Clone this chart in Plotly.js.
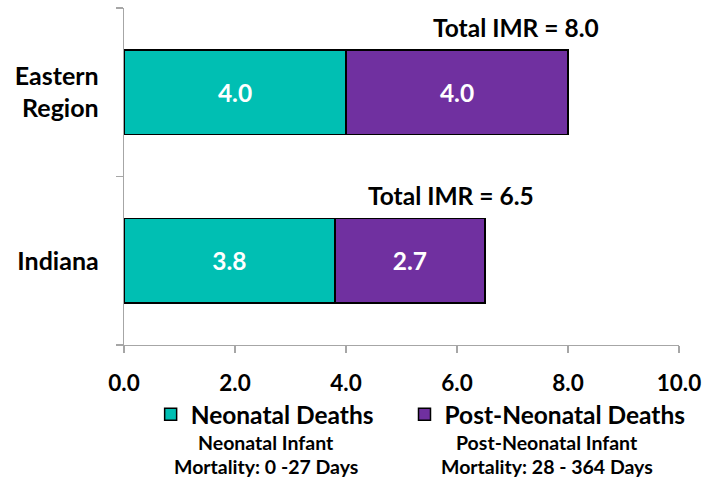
<!DOCTYPE html>
<html>
<head>
<meta charset="utf-8">
<script src="https://cdn.plot.ly/plotly-3.0.1.min.js"></script>
<style>html,body{margin:0;padding:0;background:#fff;}#chart{width:719px;height:479px;}</style>
</head>
<body>
<div id="chart"></div>
<script>
const categories = ['Indiana', 'Eastern Region'];
const categoryLabels = ['Indiana', 'Eastern<br>Region'];
const neonatal = [3.8, 4.0];
const postNeonatal = [2.7, 4.0];
const totals = [6.5, 8.0];
const seriesNames = ['Neonatal Deaths', 'Post-Neonatal Deaths'];
const subtitles = [
  ['Neonatal Infant', 'Mortality: 0 -27 Days'],
  ['Post-Neonatal Infant', 'Mortality: 28 - 364 Days']
];
const xTicks = [0, 2, 4, 6, 8, 10];

const FONT = 'Lato, "Open Sans", "DejaVu Sans", sans-serif';
const colors = ['#00BFB3', '#7030A0'];
const legendIds = ['legend', 'legend2'];

const mkTrace = (vals, i) => ({
  type: 'bar', orientation: 'h',
  y: categories, x: vals, name: seriesNames[i],
  legend: legendIds[i],
  width: 0.5,
  marker: {color: colors[i], line: {color: '#000', width: 1.5}},
  texttemplate: '%{x:.1f}', textposition: 'inside', insidetextanchor: 'middle',
  textfont: {family: FONT, size: 24.5, color: '#fff', weight: 'bold'},
  hoverinfo: 'none'
});

const data = [mkTrace(neonatal, 0), mkTrace(postNeonatal, 1)];

const totalShift = [-34, -52];
const annotations = totals.map((t, i) => ({
  x: t, y: categories[i], xref: 'x', yref: 'y',
  text: 'Total IMR = ' + t.toFixed(1), showarrow: false,
  xanchor: 'center', yanchor: 'middle', xshift: totalShift[i], yshift: 65,
  font: {family: FONT, size: 24.5, color: '#000', weight: 'bold'}
}));
const subX = [0.256, 0.762];
const subY = [-0.288, -0.362];
subtitles.forEach((lines, i) => {
  lines.forEach((txt, j) => {
    annotations.push({
      x: subX[i], y: subY[j], xref: 'paper', yref: 'paper',
      text: txt, showarrow: false, xanchor: 'center', yanchor: 'middle',
      font: {family: FONT, size: 19.5, color: '#000', weight: 'bold'}
    });
  });
});

const legendStyle = (xpos) => ({
  orientation: 'h', x: xpos, xanchor: 'left', y: -0.206, yanchor: 'middle',
  font: {family: FONT, size: 24.5, color: '#000', weight: 'bold'},
  bgcolor: 'rgba(0,0,0,0)'
});

const layout = {
  width: 719, height: 479,
  margin: {l: 124, r: 40, t: 8, b: 134},
  barmode: 'stack',
  paper_bgcolor: '#fff', plot_bgcolor: '#fff',
  font: {family: FONT, color: '#000'},
  xaxis: {
    range: [0, 10], tickvals: xTicks, tickformat: '.1f',
    showgrid: false, zeroline: false,
    showline: true, linecolor: '#A6A6A6', linewidth: 1.3,
    ticks: 'outside', ticklen: 7, tickcolor: '#A6A6A6', tickwidth: 1.3,
    ticklabelstandoff: 11,
    tickfont: {family: FONT, size: 22.5, color: '#000', weight: 'bold'},
    fixedrange: true
  },
  yaxis: {
    type: 'category', categoryorder: 'array', categoryarray: categories,
    tickvals: categories, ticktext: categoryLabels,
    range: [-0.5, 1.5],
    showgrid: false, zeroline: false,
    showline: true, linecolor: '#A6A6A6', linewidth: 1.3,
    ticks: 'outside', tickson: 'boundaries', ticklen: 7, tickcolor: '#A6A6A6', tickwidth: 1.3,
    ticklabelstandoff: 19,
    tickfont: {family: FONT, size: 25, color: '#000', weight: 'bold'},
    fixedrange: true
  },
  showlegend: true,
  legend: legendStyle(0.048),
  legend2: legendStyle(0.5054),
  annotations: annotations
};

Plotly.newPlot('chart', data, layout, {displayModeBar: false, staticPlot: true});
</script>
</body>
</html>
